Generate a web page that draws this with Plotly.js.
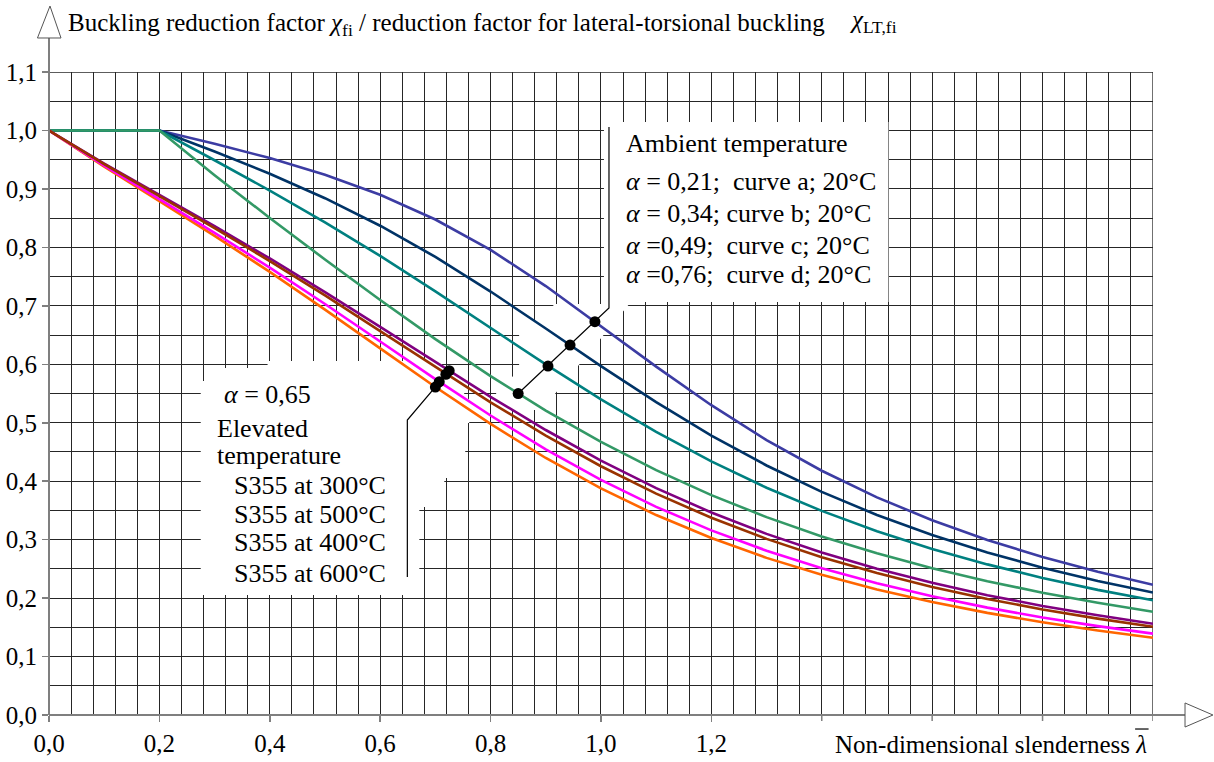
<!DOCTYPE html>
<html>
<head>
<meta charset="utf-8">
<script src="https://cdn.plot.ly/plotly-3.0.1.min.js"></script>
<style>html,body{margin:0;padding:0;background:#fff;}#chart{width:1214px;height:762px;}</style>
</head>
<body>
<div id="chart"></div>
<script>
// Non-dimensional slenderness values
const lambdaVals = [0,0.1,0.2,0.3,0.4,0.5,0.6,0.7,0.8,0.9,1.0,1.1,1.2,1.3,1.4,1.5,1.6,1.7,1.8,1.9,2.0];
// Ambient temperature (20°C) buckling curves
const chiA = [1,1,1,0.9775,0.9528,0.9243,0.8900,0.8477,0.7957,0.7339,0.6656,0.5960,0.5300,0.4703,0.4179,0.3724,0.3332,0.2994,0.2702,0.2449,0.2229];
const chiB = [1,1,1,0.9641,0.9261,0.8842,0.8371,0.7837,0.7245,0.6612,0.5970,0.5352,0.4781,0.4269,0.3817,0.3422,0.3079,0.2781,0.2521,0.2294,0.2095];
const chiC = [1,1,1,0.9491,0.8973,0.8430,0.7854,0.7247,0.6622,0.5998,0.5399,0.4842,0.4338,0.3888,0.3492,0.3145,0.2842,0.2577,0.2345,0.2141,0.1962];
const chiD = [1,1,1,0.9235,0.8504,0.7793,0.7100,0.6431,0.5797,0.5208,0.4671,0.4189,0.3762,0.3385,0.3055,0.2766,0.2512,0.2289,0.2093,0.1920,0.1766];
// Elevated temperature, S355
const chi300 = [1,0.9435,0.8899,0.8363,0.7811,0.7236,0.6640,0.6036,0.5442,0.4876,0.4353,0.3882,0.3465,0.3099,0.2780,0.2503,0.2261,0.2050,0.1866,0.1705,0.1562];
const chi500 = [1,0.9425,0.8878,0.8330,0.7766,0.7178,0.6569,0.5953,0.5350,0.4779,0.4256,0.3787,0.3374,0.3013,0.2700,0.2428,0.2191,0.1986,0.1806,0.1649,0.1510];
const chi400 = [1,0.9398,0.8825,0.8250,0.7654,0.7032,0.6390,0.5746,0.5124,0.4545,0.4022,0.3561,0.3159,0.2811,0.2511,0.2253,0.2030,0.1837,0.1668,0.1521,0.1392];
const chi600 = [1,0.9380,0.8791,0.8197,0.7581,0.6936,0.6273,0.5612,0.4980,0.4397,0.3877,0.3421,0.3027,0.2688,0.2398,0.2148,0.1933,0.1747,0.1586,0.1445,0.1322];
// Marked points
const ambientDotX = [0.989,0.944,0.904,0.850];
const ambientDotY = [0.673,0.633,0.597,0.550];
const fireDotX = [0.700,0.707,0.719,0.725];
const fireDotY = [0.561,0.570,0.583,0.589];
// Tick labels
const xTickVals = [0,0.2,0.4,0.6,0.8,1.0,1.2];
const xTickText = ['0,0','0,2','0,4','0,6','0,8','1,0','1,2'];
const xUnlabelledTicks = [1.4,1.6,1.8,2.0];
const yTickVals = [0,0.1,0.2,0.3,0.4,0.5,0.6,0.7,0.8,0.9,1.0,1.1];
const yTickText = ['0,0','0,1','0,2','0,3','0,4','0,5','0,6','0,7','0,8','0,9','1,0','1,1'];

const FONT = 'Liberation Serif';
const LW = 2.6;
function line(y, color, name){
  return {x: lambdaVals, y: y, type:'scatter', mode:'lines', name: name,
          line:{color: color, width: LW}, hoverinfo:'skip'};
}
const traces = [
  line(chiA, '#3c3ca3', 'curve a'),
  line(chiB, '#003366', 'curve b'),
  line(chiC, '#008080', 'curve c'),
  line(chiD, '#339966', 'curve d'),
  line(chi600, '#ff6600', 'S355 600°C'),
  line(chi400, '#ff00ff', 'S355 400°C'),
  line(chi300, '#800080', 'S355 300°C'),
  line(chi500, '#993300', 'S355 500°C'),
  {x: ambientDotX, y: ambientDotY, type:'scatter', mode:'markers', marker:{color:'#000', size:11}, cliponaxis:false, hoverinfo:'skip'},
  {x: fireDotX, y: fireDotY, type:'scatter', mode:'markers', marker:{color:'#000', size:11}, cliponaxis:false, hoverinfo:'skip'}
];

function poly(pts){
  return 'M ' + pts.map(p => p[0] + ',' + p[1]).join(' L ') + ' Z';
}
const GRID = '#262626';
const AX = '#7f7f7f';

const shapes = [
  // white text masks (between grid and traces)
  {type:'path', xref:'x', yref:'y', layer:'between', fillcolor:'#fff', line:{width:0},
   path: poly([[1.0054,1.0145],[1.5208,1.0145],[1.5208,0.7066],[1.0542,0.7066],[0.9150,0.5475],[0.8879,0.5218],[0.8101,0.5218],[0.8101,0.5509],[0.8517,0.5903],[0.8517,0.6501],[0.9168,0.7032],[1.0054,0.7032]])},
  {type:'path', xref:'x', yref:'y', layer:'between', fillcolor:'#fff', line:{width:0},
   path: poly([[0.2749,0.5714],[0.2984,0.5714],[0.2984,0.5937],[0.3960,0.5937],[0.3960,0.6057],[0.7071,0.6057],[0.7613,0.5389],[0.7613,0.4996],[0.7541,0.4996],[0.7541,0.4055],[0.7161,0.4055],[0.7161,0.3559],[0.6709,0.3559],[0.6709,0.2053],[0.2749,0.2053]])},
  // top & right border grid lines
  {type:'line', xref:'paper', yref:'y', layer:'between', x0:0, x1:1, y0:1.1, y1:1.1, line:{color:GRID, width:1.2}},
  {type:'line', xref:'x', yref:'paper', layer:'between', x0:2.0, x1:2.0, y0:0, y1:1, line:{color:GRID, width:1.2}},
  // leader lines
  {type:'path', xref:'x', yref:'y', layer:'between', line:{color:'#000', width:1.2},
   path:'M 1.0145,1.006 L 1.0145,0.6963 L 0.850,0.550'},
  {type:'path', xref:'x', yref:'y', layer:'between', line:{color:'#000', width:1.2},
   path:'M 0.6492,0.2361 L 0.6492,0.5047 L 0.725,0.589'},
  // axis lines with hollow arrow heads
  {type:'line', xref:'paper', yref:'paper', layer:'above', x0:0, x1:0, y0:0, y1:1.0529, line:{color:AX, width:2}},
  {type:'line', xref:'paper', yref:'paper', layer:'above', x0:0, x1:1.029, y0:0, y1:0, line:{color:AX, width:2}},
  {type:'path', xref:'paper', yref:'paper', layer:'above', fillcolor:'#fff', line:{color:'#555', width:1},
   path:'M 0.0009,1.1026 L -0.01045,1.0529 L 0.01087,1.0529 Z'},
  {type:'path', xref:'paper', yref:'paper', layer:'above', fillcolor:'#fff', line:{color:'#555', width:1},
   path:'M 1.029,0.0187 L 1.0543,0 L 1.029,-0.0187 Z'},
  // overbar above lambda in the x-axis label
  {type:'line', xref:'paper', yref:'paper', layer:'above', x0:0.9838, x1:0.9960, y0:-0.0218, y1:-0.0218, line:{color:'#000', width:1.2}}
];
// unlabelled tick marks on the x axis
xUnlabelledTicks.forEach(v => shapes.push({type:'line', xref:'x', yref:'paper', layer:'above',
  x0:v, x1:v, y0:0, y1:-0.0093, line:{color:AX, width:1.5}}));

function ann(x, y, text, size){
  return {x:x, y:y, xref:'x', yref:'y', text:text, showarrow:false, xanchor:'left', yanchor:'middle',
          font:{family:FONT, size:size||26, color:'#000'}};
}
const a = '<i>α</i>';
const annotations = [
  ann(1.0416, 0.9786, 'Ambient temperature'),
  ann(1.0416, 0.9124, a + ' = 0,21;  curve a; 20°C'),
  ann(1.0416, 0.8583, a + ' = 0,34; curve b; 20°C'),
  ann(1.0416, 0.8041, a + ' =0,49;  curve c; 20°C'),
  ann(1.0416, 0.7528, a + ' =0,76;  curve d; 20°C'),
  ann(0.3128, 0.5475, a + ' = 0,65'),
  ann(0.3002, 0.4910, 'Elevated'),
  ann(0.3002, 0.4448, 'temperature'),
  ann(0.3310, 0.3935, 'S355 at 300°C'),
  ann(0.3310, 0.3422, 'S355 at 500°C'),
  ann(0.3310, 0.2943, 'S355 at 400°C'),
  ann(0.3310, 0.2429, 'S355 at 600°C'),
  {x:0.7237, y:1.0778, xref:'paper', yref:'paper', text:'<i>χ</i><sub>LT,fi</sub>', showarrow:false,
   xanchor:'left', yanchor:'middle', font:{family:FONT, size:25, color:'#000'}},
  {x:0.9965, y:-0.0466, xref:'paper', yref:'paper', text:'Non-dimensional slenderness <i>λ</i>', showarrow:false,
   xanchor:'right', yanchor:'middle', font:{family:FONT, size:25, color:'#000'}}
];

const layout = {
  width:1214, height:762,
  margin:{l:49, r:61, t:72, b:47, pad:0},
  paper_bgcolor:'#fff', plot_bgcolor:'#fff',
  showlegend:false,
  separators:', ',
  font:{family:FONT, size:25, color:'#000'},
  title:{text:'Buckling reduction factor <i>χ</i><sub>fi</sub> / reduction factor for lateral-torsional buckling',
         x:0.0172, xref:'paper', xanchor:'left', y:0.971, yref:'container', yanchor:'middle',
         font:{family:FONT, size:25, color:'#000'}},
  xaxis:{range:[0,2.0001], tickmode:'array', tickvals:xTickVals, ticktext:xTickText,
         ticks:'outside', ticklen:6, tickwidth:1.5, tickcolor:AX,
         showgrid:true, gridcolor:GRID, gridwidth:1, zeroline:false, showline:false,
         tickfont:{family:FONT, size:25, color:'#000'},
         minor:{tickmode:'linear', tick0:0, dtick:0.04, showgrid:true, gridcolor:GRID, gridwidth:1, ticks:''}},
  yaxis:{range:[0,1.1001], tickmode:'array', tickvals:yTickVals, ticktext:yTickText,
         ticks:'outside', ticklen:6, tickwidth:1.5, tickcolor:AX,
         showgrid:true, gridcolor:GRID, gridwidth:1, zeroline:false, showline:false,
         tickfont:{family:FONT, size:25, color:'#000'},
         minor:{tickmode:'linear', tick0:0, dtick:0.05, showgrid:true, gridcolor:GRID, gridwidth:1, ticks:''}},
  shapes:shapes,
  annotations:annotations
};
Plotly.newPlot('chart', traces, layout, {staticPlot:true, displayModeBar:false});
</script>
</body>
</html>
